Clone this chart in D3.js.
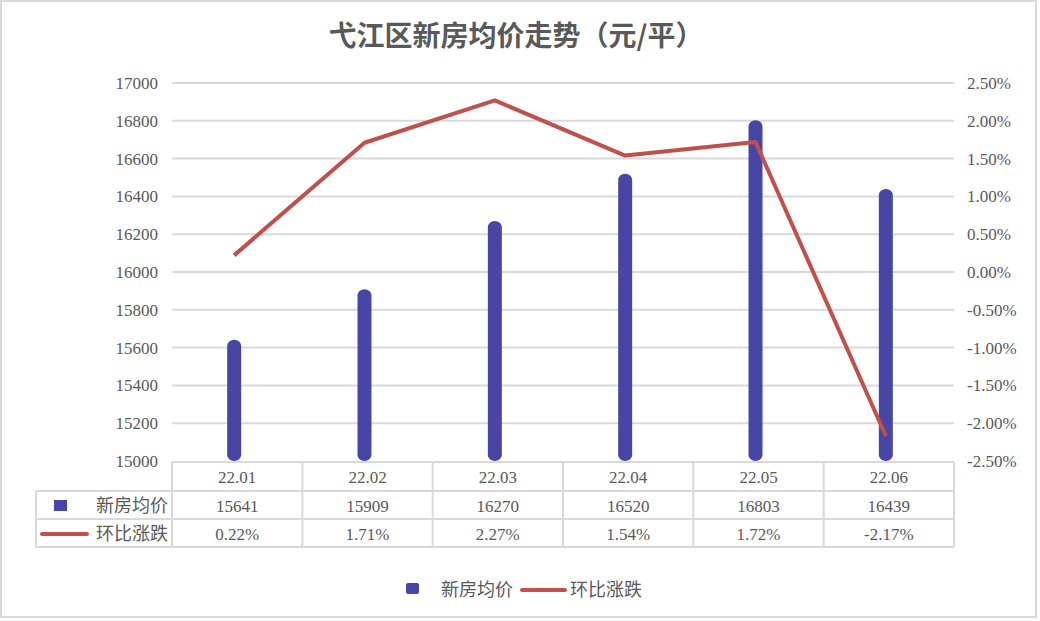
<!DOCTYPE html>
<html>
<head>
<meta charset="utf-8">
<script src="https://cdn.jsdelivr.net/npm/d3@7"></script>
<style>
  body { margin: 0; background: #fff; }
  svg text { fill: #595959; }
</style>
</head>
<body>
<svg id="chart" width="1040" height="621"></svg>
<script>
var title = "弋江区新房均价走势（元/平）";
var months = ["22.01", "22.02", "22.03", "22.04", "22.05", "22.06"];
var price = [15641, 15909, 16270, 16520, 16803, 16439];
var change = [0.22, 1.71, 2.27, 1.54, 1.72, -2.17];
var priceTicks = [15000, 15200, 15400, 15600, 15800, 16000, 16200, 16400, 16600, 16800, 17000];
var changeTicks = [-2.5, -2.0, -1.5, -1.0, -0.5, 0, 0.5, 1.0, 1.5, 2.0, 2.5];
var barName = "新房均价", lineName = "环比涨跌";

var barColor = "#4846a4", lineColor = "#c0504d", gridColor = "#d9d9d9";
var numFont = "'Liberation Serif', 'DejaVu Serif', serif";
var cjkFont = "'Noto Sans CJK SC', sans-serif";

function numText(sel) {
    return sel.style("font-family", numFont).style("font-size", "17px").style("fill", "#595959");
}
function cjkText(sel) {
    return sel.style("font-family", cjkFont).style("font-size", "18px").style("fill", "#595959");
}

var svg = d3.select("#chart");

// outer border
svg.append("rect").attr("x", 1).attr("y", 1).attr("width", 1035).attr("height", 616)
    .attr("fill", "#fff").attr("stroke", gridColor).attr("stroke-width", 2);

svg.append("text")
    .attr("x", 516).attr("y", 46)
    .attr("text-anchor", "middle")
    .style("font-family", cjkFont).style("font-weight", "bold").style("font-size", "28px")
    .style("fill", "#595959")
    .text(title);

var x = d3.scaleBand().domain(months).range([172, 954]);
var y = d3.scaleLinear().domain([15000, 17000]).range([461, 83]);
var y2 = d3.scaleLinear().domain([-2.5, 2.5]).range([461, 83]);

// grid
svg.append("g").selectAll("line")
    .data(priceTicks.slice(1))
    .enter().append("line")
    .attr("x1", 172).attr("x2", 954)
    .attr("y1", function(d) { return y(d); })
    .attr("y2", function(d) { return y(d); })
    .attr("stroke", gridColor).attr("stroke-width", 2);

// left axis
var ax = svg.append("g")
    .attr("transform", "translate(172,0)")
    .call(d3.axisLeft(y).tickValues(priceTicks).tickSize(0).tickPadding(14).tickFormat(d3.format("d")));
ax.select(".domain").remove();
numText(ax.selectAll("text"));

// right axis
var ax2 = svg.append("g")
    .attr("transform", "translate(954,0)")
    .call(d3.axisRight(y2).tickValues(changeTicks).tickSize(0).tickPadding(13)
        .tickFormat(function(d) { return d.toFixed(2) + "%"; }));
ax2.select(".domain").remove();
numText(ax2.selectAll("text"));

// bars
var bw = 14;
svg.append("g").selectAll("rect")
    .data(price)
    .enter().append("rect")
    .attr("x", function(d, i) { return x(months[i]) + x.bandwidth() / 2 - bw / 2 - 3; })
    .attr("y", function(d) { return y(d); })
    .attr("width", bw)
    .attr("height", function(d) { return y(15000) - y(d); })
    .attr("rx", 7).attr("ry", 6)
    .attr("fill", barColor);

// line
var line = d3.line()
    .x(function(d, i) { return x(months[i]) + x.bandwidth() / 2 - 3; })
    .y(function(d) { return y2(d); });
svg.append("path")
    .datum(change)
    .attr("d", line)
    .attr("fill", "none")
    .attr("stroke", lineColor)
    .attr("stroke-width", 4)
    .attr("stroke-linejoin", "round");

// data table
var rows = [462, 491, 519, 547];
var tg = svg.append("g");
tg.append("line").attr("x1", 172).attr("x2", 954).attr("y1", rows[0]).attr("y2", rows[0])
    .attr("stroke", gridColor).attr("stroke-width", 2);
[rows[1], rows[2], rows[3]].forEach(function(r) {
    tg.append("line").attr("x1", 36).attr("x2", 954).attr("y1", r).attr("y2", r)
        .attr("stroke", gridColor).attr("stroke-width", 2);
});
tg.append("line").attr("x1", 36).attr("x2", 36).attr("y1", rows[1]).attr("y2", rows[3])
    .attr("stroke", gridColor).attr("stroke-width", 2);
months.concat(["end"]).forEach(function(m, i) {
    var xx = i < months.length ? x(m) : 954;
    tg.append("line").attr("x1", xx).attr("x2", xx).attr("y1", rows[0]).attr("y2", rows[3])
        .attr("stroke", gridColor).attr("stroke-width", 2);
});

var cx = function(i) { return x(months[i]) + x.bandwidth() / 2; };
numText(tg.selectAll(".hdr").data(months).enter().append("text")
    .attr("text-anchor", "middle")
    .attr("x", function(d, i) { return cx(i); }).attr("y", 483)
    .text(function(d) { return d; }));
numText(tg.selectAll(".pv").data(price).enter().append("text")
    .attr("text-anchor", "middle")
    .attr("x", function(d, i) { return cx(i); }).attr("y", 512)
    .text(function(d) { return d; }));
numText(tg.selectAll(".cv").data(change).enter().append("text")
    .attr("text-anchor", "middle")
    .attr("x", function(d, i) { return cx(i); }).attr("y", 540)
    .text(function(d) { return d.toFixed(2) + "%"; }));

tg.append("rect").attr("x", 54).attr("y", 500).attr("width", 13).attr("height", 11).attr("fill", barColor);
cjkText(tg.append("text").attr("x", 168).attr("y", 512).attr("text-anchor", "end").text(barName));
tg.append("line").attr("x1", 42).attr("x2", 87).attr("y1", 534).attr("y2", 534)
    .attr("stroke", lineColor).attr("stroke-width", 4).attr("stroke-linecap", "round");
cjkText(tg.append("text").attr("x", 168).attr("y", 540).attr("text-anchor", "end").text(lineName));

// legend
var lg = svg.append("g");
lg.append("rect").attr("x", 406).attr("y", 583).attr("width", 13).attr("height", 11)
    .attr("rx", 2).attr("fill", barColor);
cjkText(lg.append("text").attr("x", 441).attr("y", 596).text(barName));
lg.append("line").attr("x1", 522).attr("x2", 565).attr("y1", 590).attr("y2", 590)
    .attr("stroke", lineColor).attr("stroke-width", 4).attr("stroke-linecap", "round");
cjkText(lg.append("text").attr("x", 570).attr("y", 596).text(lineName));
</script>
</body>
</html>
